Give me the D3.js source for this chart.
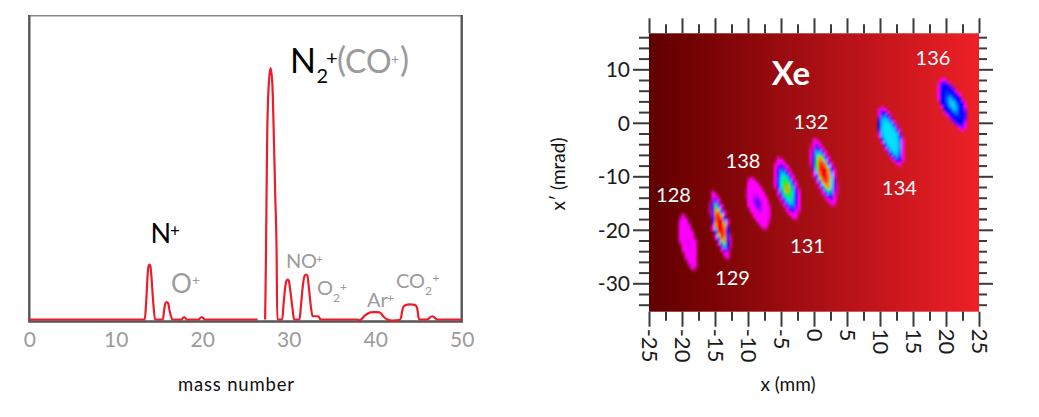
<!DOCTYPE html>
<html><head><meta charset="utf-8">
<script src="https://cdnjs.cloudflare.com/ajax/libs/d3/7.8.5/d3.min.js"></script>
<style>html,body{margin:0;padding:0;background:#fff}svg{display:block}text{font-family:Lato,"Open Sans",sans-serif}</style>
</head><body><svg id="c" width="1039" height="417"></svg>
<script>
// ---- spectrum (mass number, intensity in % of the N2+ peak); null = gap in trace
const spectrumMass = [0,13.35,13.5,13.7,13.8,13.9,14.0,14.1,14.35,14.55,15.45,15.6,15.75,15.9,16.05,16.25,16.55,17.6,17.9,18.2,19.55,19.94,20.3,26.4,
  26.8,
  27.27,27.33,27.37,27.5,27.7,27.9,28.1,28.29,28.45,28.6,28.67,29.25,29.4,29.6,29.75,29.87,30.0,30.2,30.45,30.62,31.25,31.4,31.65,31.85,32.0,32.15,32.35,32.6,32.76,33.4,33.7,37.84,38.2,38.8,39.45,40,40.5,41,41.4,42,42.8,43,43.15,43.4,44,44.6,44.85,45,45.1,45.96,46.6,47.2,50];
const spectrumValue = [0,0,6,18.5,21.3,21.8,21.3,18,6,0,0,4,6.5,6.9,6.5,3,0,0,1,0,0,1,0,0,
  null,
  0,15,26,71,94,100,94,71,48,26,0,0,6,13,15.5,15.9,15.5,11,4,0,0,5,14,17.5,17.9,17.5,12,4,1.3,1.3,0,0,-0.3,1.5,2.8,2.9,2.8,1,0,-0.4,-0.2,1,4,5.6,6,5.8,4.5,1,0,0,1.3,0,0];
const massTicks = [0,10,20,30,40,50];

// ---- beam spots: Xe isotopes in x-x' space
const isotopeNames = ["128","129","138","131","132","134","136"];
const spotX     = [-19.1,-14.2,-8.5,-4.1,1.5,11.6,21.0];   // mm
const spotXp    = [-22.3,-19.1,-15.0,-12.2,-9.2,-2.5,3.5]; // mrad
const spotHalfX = [1.3,1.45,1.8,1.9,1.9,1.9,2.05];
const spotHalfXp= [5.8,6.7,5.3,6.2,6.7,5.8,5.2];
const spotTilt  = [0.16,0.17,0.22,0.21,0.22,0.25,0.31];
// intensity at relative radii 0, .2, .4, .6, .8, 1 of each spot
const spotProfile = [
 [.22,.21,.19,.17,.14,0],
 [1,.86,.78,.45,.22,0],
 [.34,.27,.2,.18,.14,0],
 [.67,.6,.52,.38,.2,0],
 [.98,.85,.7,.45,.22,0],
 [.5,.5,.5,.47,.33,0],
 [.5,.46,.36,.33,.33,0]];
const xTicksMajor = [-25,-20,-15,-10,-5,0,5,10,15,20,25];
const xTicksMinor = [-22.5,-17.5,-12.5,-7.5,-2.5,2.5,7.5,12.5,17.5,22.5];
const yTicksMajor = [10,0,-10,-20,-30];
const yTicksMinor = [16,14,12,8,6,4,2,-2,-4,-6,-8,-12,-14,-16,-18,-22,-24,-26,-28,-32,-34];
const rampDomain = [0,.1,.2,.27,.33,.42,.5,.58,.64,.72,.82,.92,1];
const rampColors = ["rgba(255,0,255,0)","#f0f","#f0f","#8000ff","#0000ff","#0090ff","#00e5ff","#00ff00","#ff9900","#ff9900","#ff0000","#ff0000","#ffa0a8"];
const bgStops = [[0,"#5f0000"],[.1,"#6e0000"],[.5,"#a80f14"],[1,"#ee2027"]];

const svg = d3.select("#c");
const GRAY="#9b9b9b", RED="#ed1c2a", INK="#1a1a1a";

// ---------- left panel
const xM = d3.scaleLinear().domain([0,50]).range([29.3,461.7]);
const yM = d3.scaleLinear().domain([0,100]).range([319.5,68]);
const left = svg.append("g");
left.append("line").attr("x1",28).attr("x2",463).attr("y1",15.7).attr("y2",15.7).attr("stroke","#888").attr("stroke-width",1.6);
left.append("path").attr("d",`M${xM(0)},15 V321.5 H${xM(50)} V15`).attr("fill","none").attr("stroke","#555").attr("stroke-width",2.4);
const line = d3.line().defined((d,i)=>spectrumValue[i]!==null).x((d,i)=>xM(spectrumMass[i])).y((d,i)=>yM(spectrumValue[i])).curve(d3.curveMonotoneX);
left.append("path").attr("d",line(spectrumMass)).attr("fill","none").attr("stroke",RED).attr("stroke-width",2.2);
const axM = left.append("g").attr("transform","translate(0,322)").call(d3.axisBottom(xM).tickValues(massTicks).tickSize(0).tickPadding(0));
axM.select(".domain").remove();
axM.selectAll("text").attr("dy",null).attr("y",24.7).attr("font-size",21).attr("fill",GRAY).style("font-family","Lato");
left.append("text").attr("x",236).attr("y",390.5).attr("text-anchor","middle").attr("font-size",18.5).attr("fill","#111").attr("textLength",116).text("mass number");

// rich labels: list of [text, x, baseline, size, colour]
function rich(parts){
  const t=svg.append("text");
  parts.forEach(p=>t.append("tspan").attr("x",p[1]).attr("y",p[2]).attr("font-size",p[3]).attr("fill",p[4]).text(p[0]));
}
rich([["N",290,73,34,"#000"],["2",316.5,83,20,"#000"],["+",326,65,20,"#000"],
      ["(",337,72,34,GRAY],["C",345,73,32,GRAY],["O",366,73,32,GRAY],["+",391,64,14,GRAY],[")",400,72,34,GRAY]]);
rich([["N",150.5,243,27,"#000"],["+",170,237,17,"#000"]]);
rich([["O",171,293,26,GRAY],["+",192,285,14,GRAY]]);
rich([["N",286,268,20,GRAY],["O",301,268,20,GRAY],["+",316,263,12,GRAY]]);
rich([["O",317,295,20,GRAY],["2",333,302,12,GRAY],["+",340,291,12,GRAY]]);
rich([["Ar",367,307,20,GRAY],["+",387,302,12,GRAY]]);
rich([["C",396,288,20,GRAY],["O",409,288,20,GRAY],["2",425,295,12,GRAY],["+",432.5,282,12,GRAY]]);

// ---------- right panel
const xP = d3.scaleLinear().domain([-25,25]).range([649,979]);
const yP = d3.scaleLinear().domain([10,-30]).range([69.3,283.3]);
const imgTop=33.3, imgBot=311.7;
const defs=svg.append("defs");
const grad=defs.append("linearGradient").attr("id","bg");
bgStops.forEach(s=>grad.append("stop").attr("offset",s[0]).attr("stop-color",s[1]));
const right=svg.append("g");
right.append("rect").attr("x",xP(-25)).attr("y",imgTop).attr("width",xP(25)-xP(-25)).attr("height",imgBot-imgTop).attr("fill","url(#bg)");

// cells of the x-x' map
const color=d3.scaleLinear().domain(rampDomain).range(rampColors).interpolate(d3.interpolateRgb);
const dxC=0.45, dyC=0.56, cellW=xP(dxC)-xP(0), cellH=yP(0)-yP(dyC);
const P=1.5, radii=[0,.2,.4,.6,.8,1];
const cells=[];
isotopeNames.forEach((n,k)=>{
  const prof=d3.scaleLinear().domain(radii).range(spotProfile[k]).clamp(true);
  d3.range(-25,25,dxC).forEach(gx=>d3.range(-35.3,16.7,dyC).forEach(gy=>{
    const cx=gx+dxC/2, cy=gy+dyC/2, dy=cy-spotXp[k];
    const u=(cx-spotX[k]+spotTilt[k]*dy)/spotHalfX[k], w=dy/spotHalfXp[k];
    const r=Math.pow(Math.pow(Math.abs(u),P)+Math.pow(Math.abs(w),P),1/P);
    if(r<1) cells.push({x:gx,y:gy,v:prof(r)});
  }));
});
const blur=defs.append("filter").attr("id","soft").attr("x","-5%").attr("y","-5%").attr("width","110%").attr("height","110%");
blur.append("feGaussianBlur").attr("stdDeviation",1);
right.append("g").attr("filter","url(#soft)").selectAll("rect").data(cells).join("rect")
  .attr("x",d=>xP(d.x)).attr("y",d=>yP(d.y+dyC)).attr("width",cellW+.3).attr("height",cellH+.3).attr("fill",d=>color(d.v));

function style(g){g.select(".domain").remove();g.selectAll("line").attr("stroke","#3a3a3a").attr("stroke-width",2);}
const bot=right.append("g").attr("transform",`translate(0,${imgBot})`);
bot.append("g").call(d3.axisBottom(xP).tickValues(xTicksMinor).tickSize(9).tickFormat("")).call(style);
const bm=bot.append("g").call(d3.axisBottom(xP).tickValues(xTicksMajor).tickSize(15).tickFormat(String)).call(style);
bm.selectAll("text").attr("transform","rotate(90)").attr("y",0).attr("x",17).attr("dy",".36em").attr("text-anchor","start").attr("font-size",22).attr("fill",INK).style("font-family","Lato");
const top_=right.append("g").attr("transform",`translate(0,${imgTop})`);
top_.append("g").call(d3.axisTop(xP).tickValues(xTicksMinor).tickSize(9).tickFormat("")).call(style);
top_.append("g").call(d3.axisTop(xP).tickValues(xTicksMajor).tickSize(15).tickFormat("")).call(style);
const lf=right.append("g").attr("transform",`translate(${xP(-25)},0)`);
lf.append("g").call(d3.axisLeft(yP).tickValues(yTicksMinor).tickSize(10).tickFormat("")).call(style);
const lm=lf.append("g").call(d3.axisLeft(yP).tickValues(yTicksMajor).tickSize(16).tickPadding(3).tickFormat(String)).call(style);
lm.selectAll("text").attr("font-size",21).attr("fill",INK).attr("dy",".36em").style("font-family","Lato");
const rt=right.append("g").attr("transform",`translate(${xP(25)},0)`);
rt.append("g").call(d3.axisRight(yP).tickValues(yTicksMinor).tickSize(8).tickFormat("")).call(style);
rt.append("g").call(d3.axisRight(yP).tickValues(yTicksMajor).tickSize(14).tickFormat("")).call(style);

svg.append("text").attr("x",788).attr("y",390.5).attr("text-anchor","middle").attr("font-size",19).attr("fill","#111").text("x (mm)");
svg.append("text").attr("transform","translate(565,174) rotate(-90)").attr("text-anchor","middle").attr("font-size",19).attr("fill","#111").text("x′ (mrad)");

svg.append("text").attr("x",791).attr("y",85).attr("text-anchor","middle").attr("font-size",33).attr("font-weight",700).attr("fill","#fff").text("Xe");
const isoLabelX=[673.5,732.5,743,807.5,811,899.5,933], isoLabelY=[201.7,285,167.7,252.7,129,195,65];
isotopeNames.forEach((n,i)=>svg.append("text").attr("x",isoLabelX[i]).attr("y",isoLabelY[i]).attr("text-anchor","middle").attr("font-size",20).attr("fill","#fff").text(n));
</script></body></html>
